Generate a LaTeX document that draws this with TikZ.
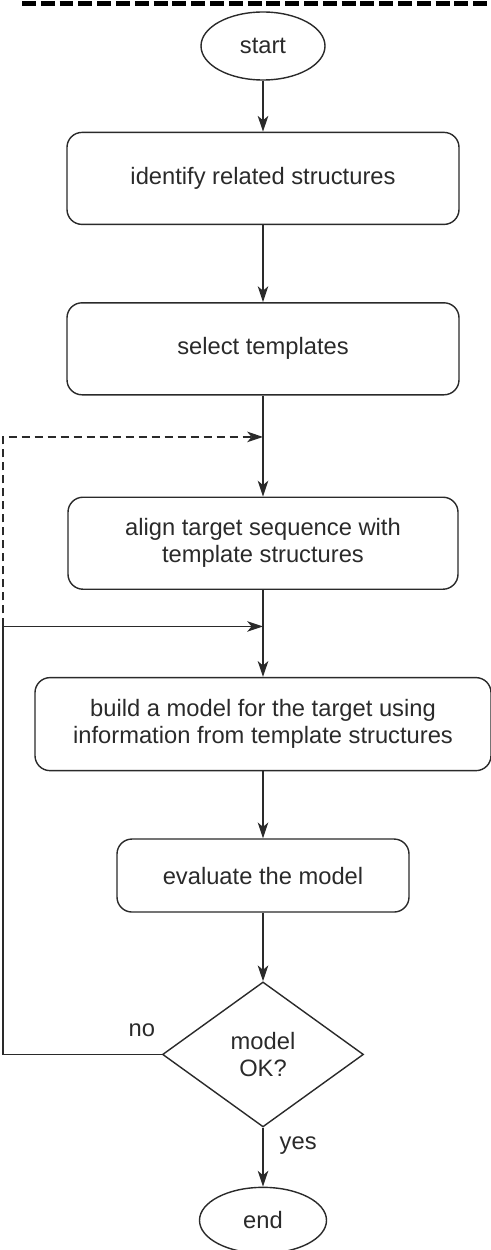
\documentclass[tikz,border=0pt]{standalone}
\usepackage{fontspec}
\setmainfont{Liberation Sans}
\usepackage{tikz}
\usetikzlibrary{%
  shapes.geometric, arrows.meta, calc, positioning
}
\usepackage{xcolor}
\definecolor{inkgray}{HTML}{2A2A2A}
\tikzstyle{pbox} = [%
  rectangle,
  rounded corners=0.3cm,
  draw=inkgray,
  minimum height=1.84cm,
  align=center,
  text centered,
  inner sep=2pt
]
\tikzstyle{tnode} = [%
  ellipse,
  draw=inkgray,
  minimum width=2.48cm,
  minimum height=1.36cm,
  inner sep=0pt
]
\tikzstyle{dnode} = [%
  diamond,
  draw=inkgray,
  minimum width=4.02cm,
  minimum height=2.9cm,
  align=center,
  inner sep=0pt
]

\begin{document}
\begin{tikzpicture}[%
  >={Stealth[length=9pt,width=6pt,inset=2.5pt]},
  line width=0.8pt,
  every node/.style={%
    font=\fontsize{13.5}{15.3}\selectfont,
    text=inkgray
  },
  flow/.style={->,draw=inkgray},
  retry/.style={->,draw=inkgray,dash pattern=on 4.6pt off 2.8pt},
  lbl/.style={inner sep=0pt}
]
  \useasboundingbox (0,0) rectangle (9.82,-25);

  % Top rule
  \draw[black, line width=2.8pt, dash pattern=on 7.9pt off 2.8pt] (0.44,-0.066) -- (9.82,-0.066);

  % Nodes
  \node[tnode] (start) at (5.26,-0.92) {start};
  \node[pbox,minimum width=7.84cm,below=1.02cm of start] (identify) {identify related structures};
  \node[pbox,minimum width=7.84cm,below=1.54cm of identify] (select) {select templates};
  \node[pbox,minimum width=7.8cm,below=2.02cm of select] (align) {align target sequence with\\template structures};
  \node[pbox,minimum width=9.12cm,minimum height=1.86cm,below=1.74cm of align] (build) {build a model for the target using\\information from template structures};
  \node[pbox,minimum width=5.84cm,minimum height=1.46cm,below=1.34cm of build] (evaluate) {evaluate the model};
  \node[dnode,below=1.37cm of evaluate] (check) {model\\OK?};
  \node[tnode,minimum width=2.54cm,minimum height=1.32cm,below=1.18cm of check] (end) {end};

  % Junctions
  \coordinate (join1) at ($(select.south)!0.41!(align.north)$);
  \coordinate (join2) at ($(align.south)!0.42!(build.north)$);
  \coordinate (rail) at (0.06,0);

  % Main flow
  \draw[flow] (start) -- (identify);
  \draw[flow] (identify) -- (select);
  \draw[flow] (select) -- (align);
  \draw[flow] (align) -- (build);
  \draw[flow] (build) -- (evaluate);
  \draw[flow] (evaluate) -- (check);
  \draw[flow] (check) -- node[lbl,right=0.32cm,pos=0.3] {yes} (end);

  % Loops back
  \draw[flow] (check.west) node[lbl,above left=0.34cm and 0.12cm] {no}
    -- (check.west -| rail) -- (join2 -| rail) -- (join2);
  \draw[retry] (join2 -| rail) -- (join1 -| rail) -- (join1);

\end{tikzpicture}
\end{document}
